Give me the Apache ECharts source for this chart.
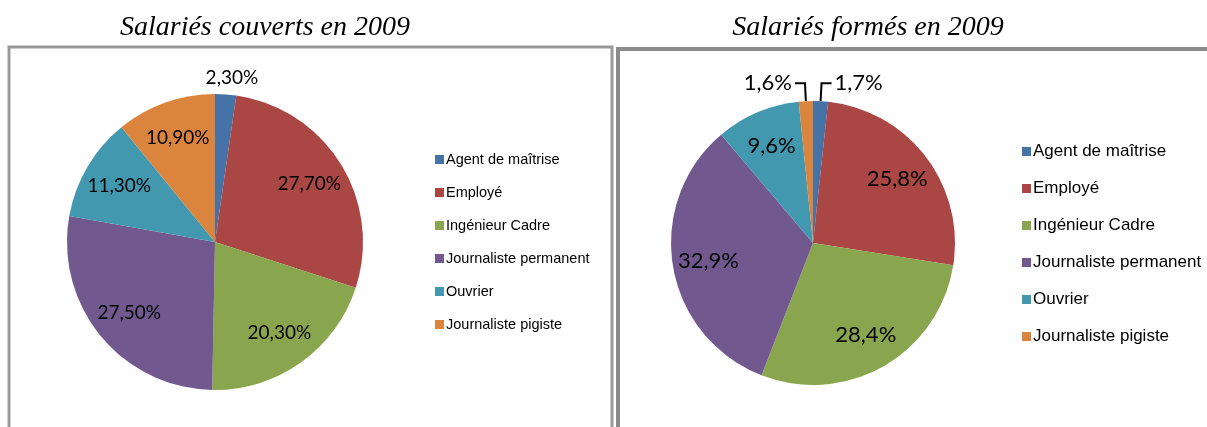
<!DOCTYPE html>
<html>
<head>
<meta charset="utf-8">
<script src="https://cdn.jsdelivr.net/npm/echarts@6/dist/echarts.min.js"></script>
<style>
  html, body { margin: 0; padding: 0; background: #fff; }
  #main { width: 1207px; height: 427px; }
</style>
</head>
<body>
<div id="main"></div>
<script>
// categories et valeurs (%)
var categories = ['Agent de maîtrise', 'Employé', 'Ingénieur Cadre', 'Journaliste permanent', 'Ouvrier', 'Journaliste pigiste'];
var couverts = [2.3, 27.7, 20.3, 27.5, 11.3, 10.9];
var formes = [1.7, 25.8, 28.4, 32.9, 9.6, 1.6];
var titles = ['Salariés couverts en 2009', 'Salariés formés en 2009'];
var colors = ['#4572A7', '#AA4643', '#89A54E', '#71588F', '#4198AF', '#DB843D'];

var myChart = echarts.init(document.getElementById('main'));

function pieData(values) {
    return categories.map(function (name, i) {
        return { name: name, value: values[i] };
    });
}
// labels posés dans un anneau transparent, comme Excel
function labelData(values, outside) {
    return categories.map(function (name, i) {
        var item = { name: name, value: values[i] };
        if (outside.indexOf(i) >= 0) {
            item.label = { position: 'outside' };
        }
        return item;
    });
}
function fmt(decimals) {
    return function (p) {
        return p.value.toFixed(decimals).replace('.', ',') + '%';
    };
}

var legendBase = {
    orient: 'vertical',
    icon: 'rect',
    itemWidth: 9,
    itemHeight: 9,
    data: categories,
    selectedMode: false
};
var titleStyle = { fontFamily: 'Liberation Serif', fontStyle: 'italic', fontWeight: 'normal', fontSize: 28, color: '#000' };

myChart.setOption({
    color: colors,
    animation: false,
    title: [
        { text: titles[0], left: 260, top: 9, textAlign: 'center', textStyle: titleStyle },
        { text: titles[1], left: 863, top: 9, textAlign: 'center', textStyle: titleStyle }
    ],
    graphic: [
        { type: 'rect', shape: { x: 9, y: 47, width: 603, height: 400 },
          style: { fill: 'none', stroke: '#9a9a9a', lineWidth: 3 }, silent: true },
        { type: 'rect', shape: { x: 618, y: 49, width: 600, height: 400 },
          style: { fill: 'none', stroke: '#8a8a8a', lineWidth: 4 }, silent: true }
    ],
    legend: [
        echarts.util.merge({ left: 430, top: 147, itemGap: 18,
            textStyle: { fontFamily: 'Liberation Sans', fontSize: 14.5, lineHeight: 14, color: '#000', padding: [0, 0, 0, -3] } }, legendBase),
        echarts.util.merge({ left: 1017, top: 138, itemGap: 20,
            textStyle: { fontFamily: 'Liberation Sans', fontSize: 17, lineHeight: 15, color: '#000', padding: [0, 0, 0, -3] } }, legendBase)
    ],
    series: [
        {
            type: 'pie', center: [215, 242], radius: [0, 148], startAngle: 90,
            data: pieData(couverts), label: { show: false }, labelLine: { show: false },
            itemStyle: { borderWidth: 0 }, silent: true
        },
        {
            type: 'pie', center: [813, 243], radius: [0, 142], startAngle: 90,
            data: pieData(formes), label: { show: false }, labelLine: { show: false },
            itemStyle: { borderWidth: 0 }, silent: true
        },
        {
            type: 'pie', center: [215, 242], radius: [68, 148], startAngle: 90,
            data: labelData(couverts, [0]),
            itemStyle: { color: 'transparent', borderWidth: 0 },
            label: { position: 'inside', formatter: fmt(2), color: '#000', fontFamily: 'Lato', fontSize: 19 },
            labelLine: { show: false, length: 17, length2: 0 },
            labelLayout: { align: 'center' },
            silent: true
        },
        {
            type: 'pie', center: [813, 243], radius: [64, 142], startAngle: 90,
            data: labelData(formes, [0, 5]),
            itemStyle: { color: 'transparent', borderWidth: 0 },
            label: { position: 'inside', formatter: fmt(1), color: '#000', fontFamily: 'Lato', fontSize: 22, distanceToLabelLine: 3 },
            labelLine: { show: true, length: 18, length2: 10, lineStyle: { color: '#000', width: 2 } },
            silent: true
        }
    ]
});
</script>
</body>
</html>
